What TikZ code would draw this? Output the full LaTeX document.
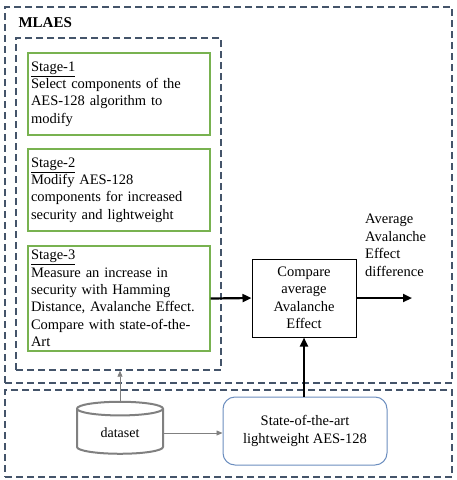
\documentclass[tikz,border=0pt]{standalone}
\usepackage{fontspec}
\setmainfont{Liberation Serif}
\usetikzlibrary{arrows.meta,shapes.geometric}
\definecolor{groupline}{RGB}{68,84,106}
\definecolor{stagegreen}{RGB}{120,178,80}
\definecolor{sotablue}{RGB}{108,142,191}
\tikzset{
  group/.style={draw=groupline, line width=1.4pt, dash pattern=on 7pt off 4pt, inner sep=0pt},
  stagebox/.style={draw=stagegreen, line width=1.2pt, minimum width=180pt, text width=176pt,
    align=left, inner xsep=3pt, inner ysep=0pt, font=\fontsize{14.5}{17.3}\selectfont},
  textfont/.style={font=\fontsize{14.5}{17.5}\selectfont},
  thickarrow/.style={line width=2.2pt, -{Triangle[length=9pt,width=8pt]}},
  thinarrow/.style={draw=gray, line width=0.8pt, -{Triangle[length=6pt,width=5pt]}},
}
\begin{document}
\begin{tikzpicture}[x=1pt,y=-1pt]
    \useasboundingbox (0,0) rectangle (457,480);
    % Groups
    \node[group, minimum width=447pt, minimum height=376pt] (mlaes) at (228.5,195) {};
    \node[group, minimum width=205pt, minimum height=332pt] (inner) at (118.5,204) {};
    \node[group, minimum width=447pt, minimum height=87pt] (base) at (228.5,433.5) {};
    \node[anchor=west, font=\fontsize{15}{17}\selectfont\bfseries] (title) at (15,23) {MLAES};
    % Stages
    \node[stagebox, minimum height=82pt] (stage1) at (119,94)
      {\underline{Stage-1}\\Select components of the\\AES-128 algorithm to\\modify};
    \node[stagebox, minimum height=82pt] (stage2) at (119,190)
      {\underline{Stage-2}\\Modify AES-128\\components for increased\\security and lightweight};
    \node[stagebox, minimum height=105pt] (stage3) at (119,298.5)
      {\underline{Stage-3}\\Measure an increase in\\security with Hamming\\Distance, Avalanche Effect.\\Compare with state-of-the-\\Art};
    % Comparison
    \node[draw, line width=1pt, minimum width=104pt, minimum height=78pt, align=center,
      textfont] (compare) at (304,298)
      {Compare\\average\\Avalanche\\Effect};
    \node[anchor=north west, align=left, inner sep=0pt, textfont]
      (diff) at (365,214) {Average\\Avalanche\\Effect\\difference};
    \coordinate (out) at (412,298);
    % Inputs
    \node[draw=sotablue, line width=1pt, rounded corners=12pt, minimum width=164pt,
      minimum height=68pt, align=center, textfont]
      (sota) at (305,431) {State-of-the-art\\lightweight AES-128};
    \node[cylinder, shape border rotate=90, aspect=0.3, draw=gray, line width=2pt,
      minimum width=86pt, minimum height=52pt, font=\fontsize{14}{16}\selectfont]
      (dataset) at (120,433) {dataset};
    % Arrows
    \draw[thickarrow] (stage3.east) -- (compare.west);
    \draw[thickarrow] (compare.east) -- (out);
    \draw[thickarrow] (sota.north -| compare.south) -- (compare.south);
    \draw[thinarrow] (dataset.north) -- (dataset.north |- inner.south);
    \draw[thinarrow] (dataset.east) -- (dataset.east -| sota.west);
\end{tikzpicture}
\end{document}
